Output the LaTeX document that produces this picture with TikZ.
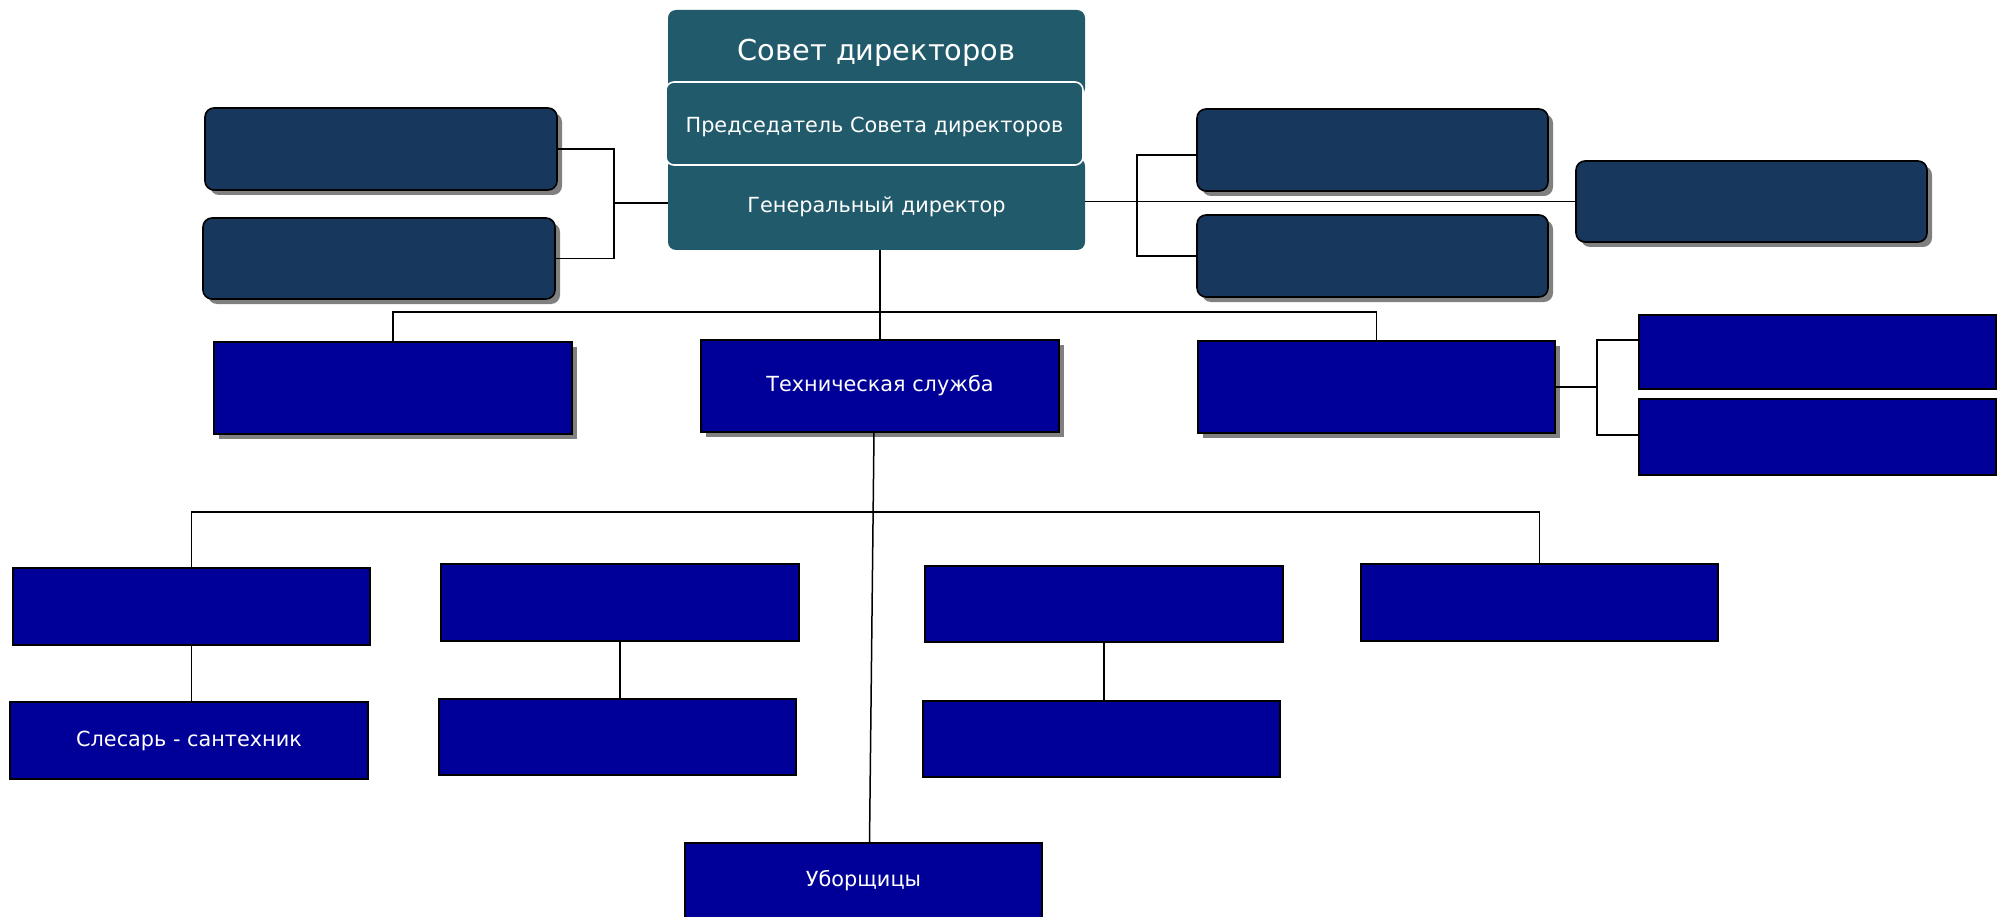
\documentclass[tikz,border=0pt]{standalone}
\usepackage{fontspec}
\setmainfont{DejaVu Sans}
\usetikzlibrary{shadows}
\definecolor{tealbox}{RGB}{33,90,106}
\definecolor{navybox}{RGB}{24,55,93}
\definecolor{bluebox}{RGB}{0,0,153}
\newcommand{\bx}[7]{\node[#6, minimum width={(#4-#2)*1pt}, minimum height={(#5-#3)*1pt}] (#1) at ({(#2+#4)/2},{(#3+#5)/2}) {#7};}
\tikzset{
  base/.style={inner sep=0pt, outer sep=0pt, text=white, align=center, font=\fontsize{20.8}{25}\selectfont},
  lowtext/.style={text height=17.5pt, text depth=0pt},
  shad/.style={drop shadow={shadow xshift=5pt, shadow yshift=-5pt, fill=black!50, opacity=1}},
  tealnode/.style={base, fill=tealbox, rounded corners=8pt},
  navynode/.style={base, draw=black, line width=1.6pt, fill=navybox, rounded corners=9pt, shad},
  bluenode/.style={base, draw=black, line width=1.6pt, fill=bluebox},
  blueshad/.style={bluenode, shad},
  conn/.style={draw=black, line width=1.5pt}
}
\begin{document}
\begin{tikzpicture}[x=1pt,y=-1pt]
\useasboundingbox (0,0) rectangle (2004,917);
% top structure
\bx{sovet}{668}{10}{1085}{96}{tealnode, font=\fontsize{28.8}{34}\selectfont}{Совет директоров}
\bx{gd}{668}{158}{1085}{250}{tealnode, lowtext}{Генеральный директор}
\bx{pred}{666}{82}{1083}{165}{tealnode, lowtext, draw=white, line width=1.6pt}{Председатель Совета директоров}
% navy boxes
\bx{L1}{205}{108}{557}{190}{navynode}{}
\bx{L2}{203}{218}{555}{299}{navynode}{}
\bx{R1}{1197}{109}{1548}{191}{navynode}{}
\bx{R2}{1197}{215}{1548}{297}{navynode}{}
\bx{FR}{1576}{161}{1927}{242}{navynode}{}
% row 2
\bx{A2}{214}{342}{572}{434}{blueshad}{}
\bx{tech}{701}{340}{1059}{432}{blueshad}{Техническая служба}
\bx{C2}{1198}{341}{1555}{433}{blueshad}{}
\bx{D1}{1639}{315}{1996}{389}{bluenode}{}
\bx{D2}{1639}{399}{1996}{475}{bluenode}{}
% row 3 / 4
\bx{E1}{13}{568}{370}{645}{bluenode}{}
\bx{E2}{10}{702}{368}{779}{bluenode}{Слесарь - сантехник}
\bx{F1}{441}{564}{799}{641}{bluenode}{}
\bx{F2}{439}{699}{796}{775}{bluenode}{}
\bx{G1}{925}{566}{1283}{642}{bluenode}{}
\bx{G2}{923}{701}{1280}{777}{bluenode}{}
\bx{H1}{1361}{564}{1718}{641}{bluenode}{}
\node[bluenode, minimum width=357pt, minimum height=77pt, anchor=north] (ub) at (863.5,843) {};
\node[base] at (863.5,881) {Уборщицы};
% connectors
\coordinate (lb) at (614,203);
\draw[conn] (L1.east) -- (L1.east -| lb) -- (L2.east -| lb) -- (L2.east);
\draw[conn] (lb) -- (lb -| gd.west);
\draw[conn] (FR.west) -- (FR.west -| gd.east);
\coordinate (rb1) at (1137,155);
\coordinate (rb2) at (1137,256);
\draw[conn] (R1.west |- rb1) -- (rb1) -- (rb2) -- (R2.west |- rb2);
\draw[conn] (gd.south -| tech.north) -- (tech.north);
\coordinate (h2) at (880,312);
\draw[conn] (A2.north) |- (h2) -| (C2.north);
\coordinate (cb1) at (1597,340);
\coordinate (cb2) at (1597,435);
\draw[conn] (C2.east) -- (C2.east -| cb1);
\draw[conn] (D1.west |- cb1) -- (cb1) -- (cb2) -- (D2.west |- cb2);
\draw[conn] ([xshift=-6pt]tech.south) -- ([xshift=6pt]ub.north);
\coordinate (h3) at (870,512);
\draw[conn] (E1.north) |- (h3) -| (H1.north);
\draw[conn] (E1.south) -- (E1.south |- E2.north);
\draw[conn] (F1.south) -- (F1.south |- F2.north);
\draw[conn] (G1.south) -- (G1.south |- G2.north);
\end{tikzpicture}
\end{document}
